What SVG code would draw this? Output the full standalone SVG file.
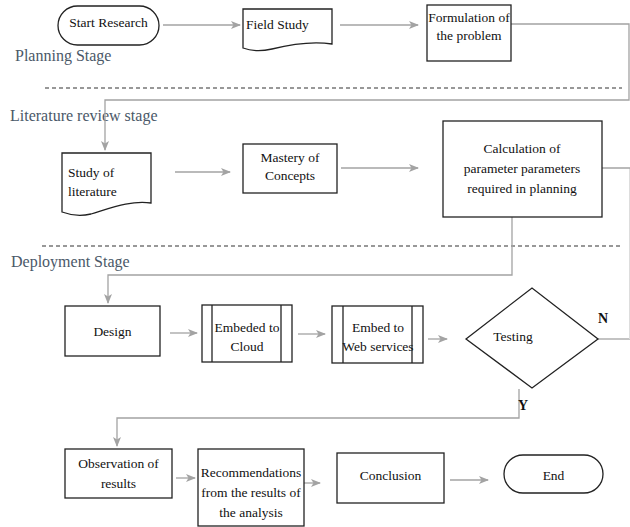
<svg xmlns="http://www.w3.org/2000/svg" width="630" height="527" viewBox="0 0 630 527">
  <defs>
    <style>
      .box { fill: #ffffff; stroke: #222222; stroke-width: 1.3; }
      .lbl { font-family: "Liberation Serif", Tinos, "Times New Roman", "DejaVu Serif", serif; font-size: 13.5px; fill: #111111; }
      .mid { text-anchor: middle; }
      .stage { font-family: "Liberation Serif", Tinos, "Times New Roman", "DejaVu Serif", serif; font-size: 16px; fill: #4a5868; }
      .yn { font-family: "Liberation Serif", Tinos, "Times New Roman", "DejaVu Serif", serif; font-size: 14px; font-weight: bold; fill: #111111; }
      .sep { stroke: #333333; stroke-width: 1.1; stroke-dasharray: 4 3; fill: none; }
      .flow { fill: none; stroke: #a3a3a3; stroke-width: 1.3; }
      .faint { fill: none; stroke: #dddddd; stroke-width: 1; }
      .arrow { marker-end: url(#head); }
    </style>
    <marker id="head" viewBox="0 0 10 8" refX="9" refY="4" markerWidth="10" markerHeight="8" markerUnits="userSpaceOnUse" orient="auto">
      <path d="M0,0 L10,4 L0,8 L2.5,4 Z" fill="#a3a3a3"/>
    </marker>
  </defs>

  <rect width="630" height="527" fill="#ffffff"/>

  <!-- stage separators and titles -->
  <g id="stages">
    <line class="sep" x1="45" y1="88" x2="622" y2="88"/>
    <line class="sep" x1="42" y1="246" x2="620" y2="246"/>
    <text class="stage" x="15" y="61" font-family="Liberation Serif, serif">Planning Stage</text>
    <text class="stage" x="10" y="121" font-family="Liberation Serif, serif">Literature review stage</text>
    <text class="stage" x="11" y="267" font-family="Liberation Serif, serif">Deployment Stage</text>
  </g>

  <!-- connectors -->
  <g id="connectors">
    <path class="flow arrow" d="M163,25 H240"/>
    <path class="flow arrow" d="M340,25 H418"/>
    <path class="flow arrow" d="M511,24 H629 V100 H105 V150"/>
    <path class="flow arrow" d="M175,172 H230"/>
    <path class="flow arrow" d="M341,168 H418"/>
    <path class="flow" d="M598,339 H630"/>
    <path class="faint" d="M629.5,339 V168"/>
    <path class="flow arrow" d="M630,168 H592"/>
    <path class="flow arrow" d="M512,217 V275 H108 V303"/>
    <path class="flow arrow" d="M170,333 H197"/>
    <path class="flow arrow" d="M298,334 H325"/>
    <path class="flow arrow" d="M428,339 H447"/>
    <path class="flow arrow" d="M519,389 V418 H117 V446"/>
    <path class="flow arrow" d="M176,478 H195"/>
    <path class="flow arrow" d="M304,483 H320"/>
    <path class="flow arrow" d="M450,480 H488"/>
  </g>

  <g id="start">
    <rect class="box" x="58" y="6" width="101" height="39" rx="19.5"/>
    <text class="lbl mid" x="108.5" y="27">Start Research</text>
  </g>

  <g id="field-study">
    <path class="box" d="M243,9 H332 V44 C312,41 292,44 272,49 C259,52 251,51 243,48 Z"/>
    <text class="lbl" x="246" y="29">Field Study</text>
  </g>

  <g id="formulation">
    <rect class="box" x="427" y="5" width="84" height="56"/>
    <text class="lbl mid" x="469" y="22">Formulation of</text>
    <text class="lbl mid" x="469" y="40">the problem</text>
  </g>

  <g id="study-literature">
    <path class="box" d="M62,153 H151 V203 C131,200 111,208 91,214 C78,217 70,215 62,212 Z"/>
    <text class="lbl" x="68" y="177">Study of</text>
    <text class="lbl" x="68" y="196">literature</text>
  </g>

  <g id="mastery">
    <rect class="box" x="243" y="144" width="94" height="49"/>
    <text class="lbl mid" x="290" y="162">Mastery of</text>
    <text class="lbl mid" x="290" y="180">Concepts</text>
  </g>

  <g id="calculation">
    <rect class="box" x="443" y="121" width="159" height="96"/>
    <text class="lbl mid" x="522" y="153">Calculation of</text>
    <text class="lbl mid" x="522" y="173">parameter parameters</text>
    <text class="lbl mid" x="522" y="193">required in planning</text>
  </g>

  <g id="design">
    <rect class="box" x="65" y="306" width="95" height="50"/>
    <text class="lbl mid" x="112.5" y="336">Design</text>
  </g>

  <g id="embed-cloud">
    <rect class="box" x="202" y="305" width="90" height="57"/>
    <line class="box" x1="212" y1="305" x2="212" y2="362"/>
    <line class="box" x1="281" y1="305" x2="281" y2="362"/>
    <text class="lbl mid" x="247" y="332">Embeded to</text>
    <text class="lbl mid" x="247" y="351">Cloud</text>
  </g>

  <g id="embed-web">
    <rect class="box" x="332" y="306" width="91" height="57"/>
    <line class="box" x1="343" y1="306" x2="343" y2="363"/>
    <line class="box" x1="412" y1="306" x2="412" y2="363"/>
    <text class="lbl mid" x="378" y="332">Embed to</text>
    <text class="lbl mid" x="378" y="351">Web services</text>
  </g>

  <g id="testing">
    <polygon class="box" points="466,339 532,288 598,339 532,388"/>
    <text class="lbl mid" x="513" y="341">Testing</text>
    <text class="yn mid" x="603" y="323">N</text>
    <text class="yn mid" x="523" y="410">Y</text>
  </g>

  <g id="observation">
    <rect class="box" x="65" y="449" width="107" height="49"/>
    <text class="lbl mid" x="118.5" y="468">Observation of</text>
    <text class="lbl mid" x="118.5" y="488">results</text>
  </g>

  <g id="recommendations">
    <rect class="box" x="198" y="449" width="106" height="77"/>
    <text class="lbl mid" x="251" y="477">Recommendations</text>
    <text class="lbl mid" x="251" y="497">from the results of</text>
    <text class="lbl mid" x="251" y="517">the analysis</text>
  </g>

  <g id="conclusion">
    <rect class="box" x="337" y="453" width="107" height="50"/>
    <text class="lbl mid" x="390.5" y="480">Conclusion</text>
  </g>

  <g id="end">
    <rect class="box" x="504" y="455" width="99" height="38" rx="19"/>
    <text class="lbl mid" x="553.5" y="480">End</text>
  </g>
</svg>
